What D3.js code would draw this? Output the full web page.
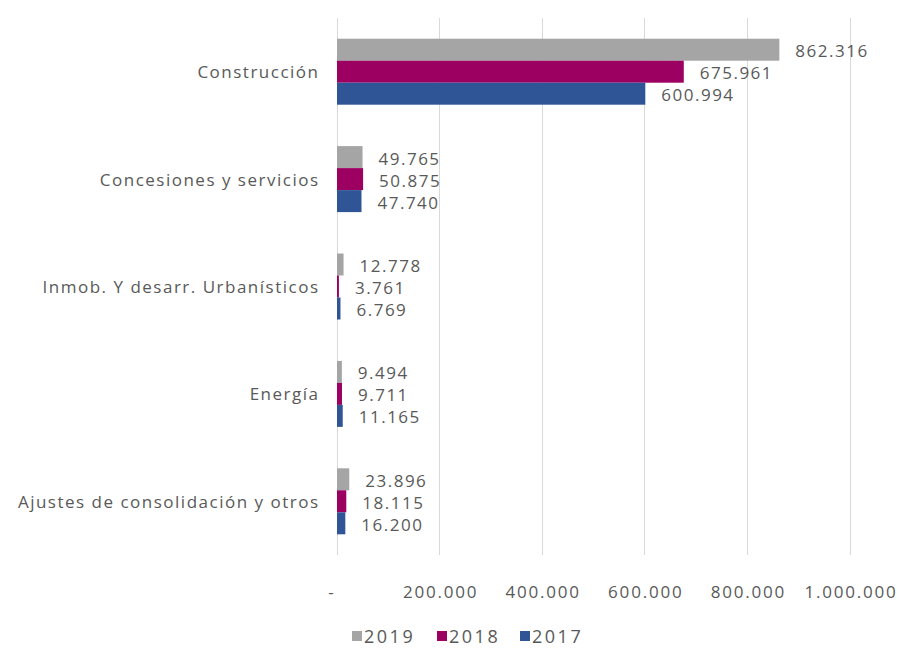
<!DOCTYPE html>
<html><head><meta charset="utf-8">
<script src="https://cdn.jsdelivr.net/npm/d3@7"></script>
<style>
html,body{margin:0;padding:0;background:#fff;}
text{font-family:"Open Sans",sans-serif;fill:#595959;}
</style></head>
<body><svg id="c" width="901" height="655"></svg>
<script>
const categories = ["Construcción","Concesiones y servicios","Inmob. Y desarr. Urbanísticos","Energía","Ajustes de consolidación y otros"];
const seriesNames = ["2019","2018","2017"];
const v2019 = [862316,49765,12778,9494,23896];
const v2018 = [675961,50875,3761,9711,18115];
const v2017 = [600994,47740,6769,11165,16200];
const xTicks = [0,200000,400000,600000,800000,1000000];
const colors = ["#A5A5A5","#9C0061","#2F5597"];

const seriesVals = [v2019, v2018, v2017];
const loc = d3.formatLocale({decimal:",", thousands:".", grouping:[3], currency:["","€"]});
const fmtN = loc.format(",d");
const fmt = v => v === 0 ? "-" : fmtN(v);

const svg = d3.select("#c");
const x = d3.scaleLinear().domain([0,1000000]).range([337,850]);
const y = d3.scaleBand().domain(categories).range([18,555]);
const bw = y.bandwidth();
const grp = 66;
const yi = d3.scaleBand().domain(seriesNames).range([(bw-grp)/2,(bw+grp)/2]);

// gridlines
svg.append("g").selectAll("line").data(xTicks).join("line")
  .attr("x1",d=>x(d)).attr("x2",d=>x(d)).attr("y1",18).attr("y2",555)
  .attr("stroke","#D9D9D9").attr("stroke-width",1).attr("shape-rendering","crispEdges");

// x tick labels
svg.append("g").selectAll("text").data(xTicks).join("text")
  .attr("x",d=> d===0 ? x(d)-5 : x(d)+1).attr("y",591)
  .attr("text-anchor","middle").attr("dominant-baseline","central")
  .attr("font-size",17).attr("letter-spacing",1.8)
  .text(fmt);

// category labels
svg.append("g").selectAll("text").data(categories).join("text")
  .attr("x",319.5).attr("y",d=>y(d)+bw/2)
  .attr("text-anchor","end").attr("dominant-baseline","central")
  .attr("font-size",17).attr("letter-spacing",1.5)
  .text(d=>d);

// bars
const rows = [];
seriesNames.forEach((s,si)=>{
  categories.forEach((c,ci)=>rows.push({s,si,c,v:seriesVals[si][ci]}));
});
svg.append("g").selectAll("rect").data(rows).join("rect")
  .attr("x",x(0)).attr("y",d=>y(d.c)+yi(d.s))
  .attr("width",d=>x(d.v)-x(0)).attr("height",yi.bandwidth())
  .attr("fill",d=>colors[d.si]);

// value labels
svg.append("g").selectAll("text").data(rows).join("text")
  .attr("x",d=>x(d.v)+16).attr("y",d=>y(d.c)+yi(d.s)+yi.bandwidth()/2+1)
  .attr("dominant-baseline","central")
  .attr("font-size",17).attr("letter-spacing",1.5)
  .text(d=>fmt(d.v));

// legend
const lx = [352,437,520];
const lg = svg.append("g").selectAll("g").data(seriesNames).join("g")
  .attr("transform",(d,i)=>`translate(${lx[i]},636)`);
lg.append("rect").attr("x",0).attr("y",-5).attr("width",10).attr("height",10).attr("fill",(d,i)=>colors[i]);
lg.append("text").attr("x",12).attr("y",0).attr("dominant-baseline","central")
  .attr("font-size",18).attr("letter-spacing",2.5).text(d=>d);
</script></body></html>
